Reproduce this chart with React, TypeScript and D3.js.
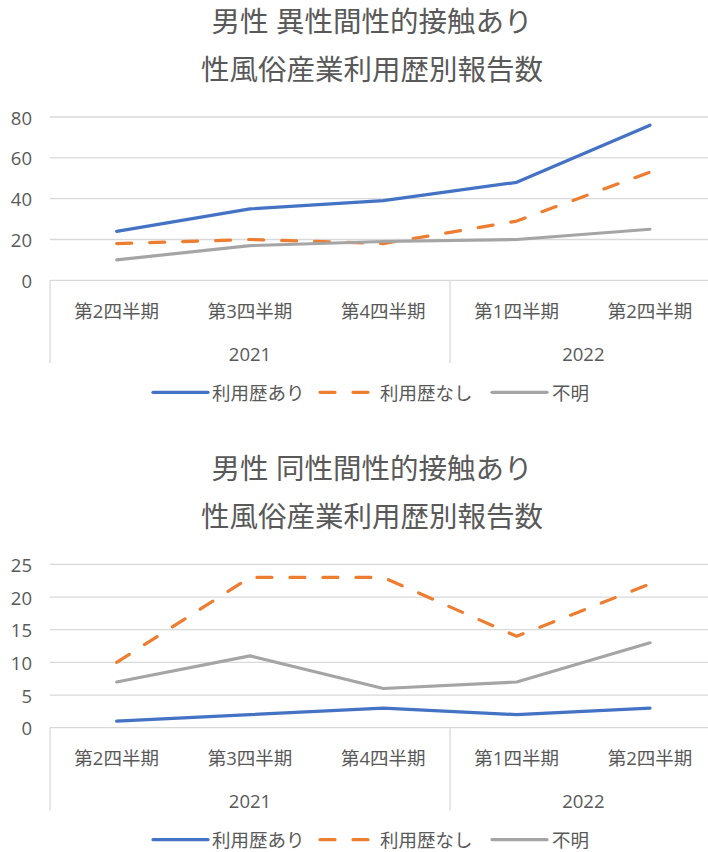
import React from "react";
import * as d3 from "d3";

const quarters = ["第2四半期", "第3四半期", "第4四半期", "第1四半期", "第2四半期"];
const years = ["2021", "2021", "2021", "2022", "2022"];
const seriesNames = ["利用歴あり", "利用歴なし", "不明"];

const heteroTitle = ["男性 異性間性的接触あり", "性風俗産業利用歴別報告数"];
const heteroUsed = [24, 35, 39, 48, 76];
const heteroNotUsed = [18, 20, 18, 29, 53];
const heteroUnknown = [10, 17, 19, 20, 25];
const heteroTicks = [0, 20, 40, 60, 80];

const homoTitle = ["男性 同性間性的接触あり", "性風俗産業利用歴別報告数"];
const homoUsed = [1, 2, 3, 2, 3];
const homoNotUsed = [10, 23, 23, 14, 22];
const homoUnknown = [7, 11, 6, 7, 13];
const homoTicks = [0, 5, 10, 15, 20, 25];

const COLORS = ["#4472C4", "#ED7D31", "#A5A5A5"];
const DASHES = [null, "15 18", null];
const FONT = "'Open Sans', 'Noto Sans CJK JP', sans-serif";
const TEXT = "#595959";
const GRID = "#d9d9d9";

const PLOT_L = 50;
const PLOT_R = 716.67;

function Chart({ top, title, series, ticks }: { top: number; title: string[]; series: number[][]; ticks: number[] }) {
  const zeroY = top + 280.3;
  const topY = top + 117;
  const idx = quarters.map((_, i) => String(i));
  const x = d3.scalePoint<string>().domain(idx).range([PLOT_L, PLOT_R]).padding(0.5);
  const step = x.step();
  const y = d3.scaleLinear().domain([ticks[0], ticks[ticks.length - 1]]).range([zeroY, topY]);
  const line = d3
    .line<number>()
    .x((_, i) => x(String(i)) as number)
    .y((d) => y(d));

  const groups: { label: string; start: number; count: number }[] = [];
  years.forEach((yr, i) => {
    const g = groups[groups.length - 1];
    if (g && g.label === yr) g.count++;
    else groups.push({ label: yr, start: i, count: 1 });
  });

  const cx = 372;
  const legendItems = [
    { x0: 153, tx: 212 },
    { x0: 320, tx: 380 },
    { x0: 492, tx: 552 },
  ];
  const legendY = zeroY + 112;

  return (
    <g>
      <text x={cx} y={top + 21} textAnchor="middle" dominantBaseline="central" fontSize={28.5} fill={TEXT} fontFamily={FONT}>
        {title[0]}
      </text>
      <text x={cx} y={top + 69} textAnchor="middle" dominantBaseline="central" fontSize={28.5} fill={TEXT} fontFamily={FONT}>
        {title[1]}
      </text>
      {ticks.map((t) => (
        <g key={t}>
          <line x1={PLOT_L} x2={PLOT_R} y1={y(t)} y2={y(t)} stroke={GRID} strokeWidth={1.3} />
          <text x={32} y={y(t)} textAnchor="end" dominantBaseline="central" fontSize={18.5} fill={TEXT} fontFamily={FONT}>
            {t}
          </text>
        </g>
      ))}
      {groups.map((g, gi) => {
        const left = PLOT_L + g.start * step;
        const right = left + g.count * step;
        return (
          <g key={gi}>
            <line x1={left} x2={left} y1={zeroY} y2={zeroY + 83} stroke={GRID} strokeWidth={1.3} />
            {gi === groups.length - 1 && (
              <line x1={right} x2={right} y1={zeroY} y2={zeroY + 83} stroke={GRID} strokeWidth={1.3} />
            )}
            <text x={(left + right) / 2} y={zeroY + 73} textAnchor="middle" dominantBaseline="central" fontSize={18.5} fill={TEXT} fontFamily={FONT}>
              {g.label}
            </text>
          </g>
        );
      })}
      {quarters.map((q, i) => (
        <text key={i} x={x(String(i))} y={zeroY + 30} textAnchor="middle" dominantBaseline="central" fontSize={18.5} fill={TEXT} fontFamily={FONT}>
          {q}
        </text>
      ))}
      {series.map((s, si) => (
        <path
          key={si}
          d={line(s) || ""}
          fill="none"
          stroke={COLORS[si]}
          strokeWidth={3.2}
          strokeLinecap="round"
          strokeLinejoin="round"
          strokeDasharray={DASHES[si] || undefined}
        />
      ))}
      {seriesNames.map((n, si) => (
        <g key={n}>
          <line
            x1={legendItems[si].x0}
            x2={legendItems[si].x0 + 55}
            y1={legendY}
            y2={legendY}
            stroke={COLORS[si]}
            strokeWidth={3.2}
            strokeLinecap="round"
            strokeDasharray={DASHES[si] || undefined}
          />
          <text x={legendItems[si].tx} y={legendY} dominantBaseline="central" fontSize={18.5} fill={TEXT} fontFamily={FONT}>
            {n}
          </text>
        </g>
      ))}
    </g>
  );
}

export default function App() {
  return (
    <svg width={708} height={852} style={{ position: "absolute", left: 0, top: 0, background: "#fff" }}>
      <rect width={708} height={852} fill="#fff" />
      <Chart top={0} title={heteroTitle} series={[heteroUsed, heteroNotUsed, heteroUnknown]} ticks={heteroTicks} />
      <Chart top={447.4} title={homoTitle} series={[homoUsed, homoNotUsed, homoUnknown]} ticks={homoTicks} />
    </svg>
  );
}
